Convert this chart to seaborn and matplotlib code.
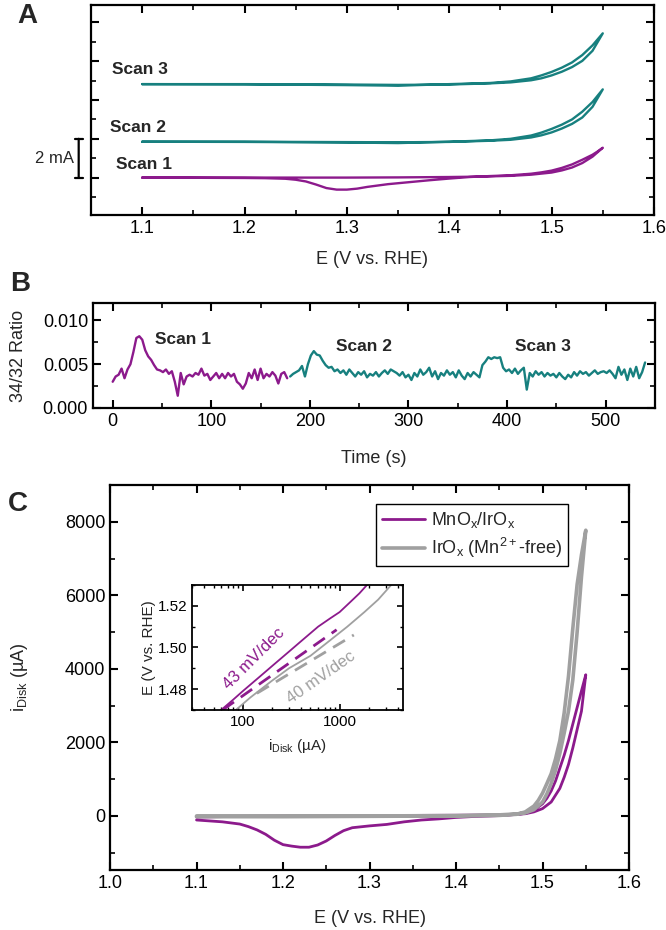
import matplotlib
matplotlib.use("Agg")
import numpy as np
import pandas as pd
import matplotlib.pyplot as plt
import seaborn as sns
from matplotlib.ticker import MultipleLocator, FixedLocator, FormatStrFormatter, LogLocator, NullFormatter

# ---------------- data ----------------
# Panel A: CV scans (mA), forward and reverse branches
e_s1_fwd = [1.10, 1.15, 1.20, 1.25, 1.30, 1.35, 1.40, 1.43, 1.46, 1.48, 1.50, 1.51, 1.52, 1.53, 1.54, 1.55]
i_s1_fwd = [0.0, 0.0, 0.0, 0.0, 0.0, 0.01, 0.03, 0.05, 0.09, 0.15, 0.26, 0.37, 0.52, 0.75, 1.08, 1.54]
e_s1_rev = [1.55, 1.545, 1.54, 1.53, 1.52, 1.51, 1.50, 1.49, 1.48, 1.46, 1.44, 1.42, 1.40, 1.38, 1.36,
            1.34, 1.32, 1.31, 1.30, 1.29, 1.28, 1.27, 1.26, 1.25, 1.24, 1.22, 1.20, 1.15, 1.10]
i_s1_rev = [1.54, 1.35, 1.18, 0.92, 0.68, 0.50, 0.36, 0.27, 0.20, 0.12, 0.08, 0.03, -0.05, -0.14, -0.24,
            -0.34, -0.48, -0.57, -0.62, -0.62, -0.54, -0.36, -0.20, -0.11, -0.06, -0.03, -0.02, -0.01, 0.0]

e_s23_fwd = [1.10, 1.20, 1.30, 1.35, 1.40, 1.44, 1.46, 1.48, 1.49, 1.50, 1.51, 1.52, 1.53, 1.54, 1.55]
e_s23_rev = [1.55, 1.54, 1.53, 1.52, 1.51, 1.50, 1.49, 1.48, 1.46, 1.44, 1.40, 1.35, 1.30, 1.20, 1.10]
i_s2_fwd = [0.0, 0.0, -0.02, -0.03, -0.01, 0.05, 0.10, 0.22, 0.33, 0.48, 0.68, 0.92, 1.25, 1.80, 2.70]
i_s2_rev = [2.70, 2.05, 1.55, 1.15, 0.88, 0.66, 0.47, 0.32, 0.15, 0.07, 0.0, -0.07, -0.04, -0.01, 0.0]
i_s3_fwd = [0.0, 0.0, -0.02, -0.04, -0.02, 0.04, 0.09, 0.20, 0.30, 0.45, 0.64, 0.88, 1.20, 1.72, 2.62]
i_s3_rev = [2.62, 2.00, 1.50, 1.12, 0.85, 0.63, 0.45, 0.30, 0.14, 0.06, 0.0, -0.08, -0.05, -0.01, 0.0]
scan_offsets = [0.0, 1.85, 4.82]

# Panel B: 34/32 ratio, sampled every 3 s
t_scan1 = list(range(0, 180, 3))
r_scan1 = [.0030, .0036, .0038, .0045, .0034, .0044, .0050, .0064, .0080, .0082,
           .0078, .0066, .0059, .0055, .0049, .0044, .0043, .0041, .0044, .0039,
           .0042, .0030, .0014, .0040, .0027, .0036, .0038, .0036, .0040, .0038,
           .0045, .0037, .0039, .0032, .0036, .0040, .0034, .0039, .0034, .0040,
           .0036, .0039, .0030, .0027, .0022, .0028, .0040, .0034, .0044, .0032,
           .0045, .0034, .0039, .0036, .0041, .0037, .0028, .0039, .0041, .0034]
t_scan23 = list(range(180, 543, 3))
r_scan23 = [.0036, .0039, .0041, .0043, .0048, .0036, .0050, .0060, .0065, .0061,
            .0060, .0054, .0049, .0046, .0047, .0042, .0044, .0040, .0043, .0038,
            .0044, .0040, .0036, .0041, .0038, .0042, .0035, .0039, .0037, .0041,
            .0036, .0040, .0043, .0039, .0044, .0042, .0040, .0037, .0041, .0035,
            .0038, .0032, .0040, .0036, .0044, .0038, .0041, .0046, .0036, .0042,
            .0033, .0040, .0037, .0043, .0038, .0041, .0035, .0043, .0037, .0033,
            .0040, .0036, .0041, .0038, .0035, .0049, .0053, .0058, .0056, .0058,
            .0057, .0058, .0046, .0042, .0044, .0040, .0045, .0039, .0043, .0046,
            .0021, .0040, .0036, .0042, .0038, .0041, .0036, .0040, .0037, .0039,
            .0035, .0040, .0036, .0033, .0038, .0035, .0041, .0037, .0042, .0039,
            .0041, .0037, .0040, .0043, .0039, .0041, .0042, .0040, .0043, .0039,
            .0034, .0047, .0038, .0044, .0032, .0045, .0036, .0047, .0034, .0041,
            .0052]

# Panel C: disk current (uA)
e_mn_fwd = [1.10, 1.15, 1.20, 1.30, 1.40, 1.45, 1.47, 1.48, 1.49, 1.50, 1.51, 1.52, 1.525, 1.53, 1.535, 1.54, 1.545, 1.55]
i_mn_fwd = [-30, -10, 0, 10, 20, 30, 45, 60, 110, 200, 380, 750, 1050, 1400, 1850, 2350, 2850, 3840]
e_mn_rev = [1.55, 1.545, 1.54, 1.535, 1.53, 1.525, 1.52, 1.515, 1.51, 1.505, 1.50, 1.49, 1.48, 1.46, 1.44, 1.42,
            1.40, 1.38, 1.36, 1.34, 1.32, 1.30, 1.28, 1.27, 1.26, 1.25, 1.24, 1.23, 1.22, 1.21, 1.20,
            1.19, 1.18, 1.17, 1.16, 1.15, 1.13, 1.10]
i_mn_rev = [3840, 3400, 2950, 2500, 2050, 1650, 1300, 950, 680, 480, 330, 160, 70, 20, 0, -15,
            -40, -80, -110, -160, -230, -270, -320, -400, -530, -680, -790, -850, -850, -820, -780,
            -660, -500, -380, -290, -220, -160, -110]
e_ir_fwd = [1.10, 1.20, 1.30, 1.40, 1.45, 1.47, 1.48, 1.49, 1.50, 1.505, 1.51, 1.515, 1.52, 1.525, 1.53,
            1.535, 1.54, 1.545, 1.55]
i_ir_fwd = [0, 0, 0, 10, 30, 55, 80, 170, 380, 600, 880, 1245, 1700, 2250, 2850, 3700, 5000, 6500, 7770]
e_ir_rev = [1.55, 1.545, 1.54, 1.535, 1.53, 1.525, 1.52, 1.515, 1.51, 1.505, 1.50, 1.495, 1.49, 1.48,
            1.47, 1.45, 1.40, 1.30, 1.20, 1.10]
i_ir_rev = [7770, 7100, 6300, 5100, 3800, 2800, 2050, 1550, 1150, 880, 620, 420, 270, 110,
            45, 15, 0, -10, -20, -20]

# Panel C inset: Tafel plots
tafel_i_mn = [60, 80, 100, 150, 200, 300, 400, 600, 800, 1000, 1300, 1600, 2000]
tafel_e_mn = [1.470, 1.475, 1.479, 1.486, 1.491, 1.498, 1.503, 1.510, 1.514, 1.517, 1.522, 1.526, 1.531]
tafel_i_ir = [85, 120, 200, 300, 500, 800, 1200, 1800, 2500, 3400]
tafel_e_ir = [1.470, 1.476, 1.484, 1.490, 1.496, 1.5035, 1.510, 1.517, 1.523, 1.530]
fit_i_mn = [62, 930]
fit_e_mn = [1.470, 1.5085]
fit_i_ir = [140, 1400]
fit_e_ir = [1.478, 1.506]

purple = "#8c1a8c"
teal = "#17807f"
grey = "#a0a0a0"

# ---------------- style ----------------
sns.set_theme(style="ticks")
plt.rcParams["font.family"] = ["Liberation Sans", "DejaVu Sans"]
plt.rcParams.update({
    "mathtext.fontset": "custom",
    "mathtext.rm": "Liberation Sans",
    "mathtext.it": "Liberation Sans:italic",
    "axes.linewidth": 1.6,
    "axes.edgecolor": "black",
    "xtick.direction": "in", "ytick.direction": "in",
    "xtick.top": True, "ytick.right": True,
    "xtick.major.size": 6, "ytick.major.size": 6,
    "xtick.minor.size": 3.5, "ytick.minor.size": 3.5,
    "xtick.major.width": 1.5, "ytick.major.width": 1.5,
    "xtick.minor.width": 1.2, "ytick.minor.width": 1.2,
    "xtick.color": "black", "ytick.color": "black",
    "xtick.labelsize": 13, "ytick.labelsize": 13,
    "axes.labelsize": 13,
})

fig = plt.figure(figsize=(6.66, 9.30), dpi=100)
ax_a = fig.add_axes([0.1366, 0.7688, 0.8453, 0.2258])
ax_b = fig.add_axes([0.1396, 0.5613, 0.8438, 0.1129])
ax_c = fig.add_axes([0.1652, 0.0645, 0.7793, 0.4140])
ax_in = fig.add_axes([0.2883, 0.2366, 0.3168, 0.1344])

# ---------------- panel A ----------------
scans = [
    (e_s1_fwd + e_s1_rev, i_s1_fwd + i_s1_rev, purple),
    (e_s23_fwd + e_s23_rev, i_s2_fwd + i_s2_rev, teal),
    (e_s23_fwd + e_s23_rev, i_s3_fwd + i_s3_rev, teal),
]
for (e, i, col), off in zip(scans, scan_offsets):
    sns.lineplot(x=e, y=np.array(i) + off, ax=ax_a, sort=False, estimator=None,
                 color=col, lw=1.7)
ax_a.set_xlim(1.05, 1.6)
ax_a.set_ylim(-1.93, 8.9)
ax_a.xaxis.set_major_locator(MultipleLocator(0.1))
ax_a.xaxis.set_minor_locator(MultipleLocator(0.05))
ax_a.xaxis.set_major_formatter(FormatStrFormatter("%.1f"))
ax_a.yaxis.set_major_locator(MultipleLocator(2))
ax_a.yaxis.set_minor_locator(MultipleLocator(1))
ax_a.tick_params(axis="y", which="both", labelleft=False)
ax_a.set_xlabel("E (V vs. RHE)")
ax_a.xaxis.set_label_coords(0.5, -0.17)
ax_a.set_ylabel("")
for lbl, x, y in [("Scan 1", 1.074, 0.7), ("Scan 2", 1.069, 2.6), ("Scan 3", 1.071, 5.55)]:
    ax_a.text(x, y, lbl, fontsize=12.5, fontweight="bold", ha="left", va="center")
ax_a.annotate("", xy=(1.038, 0), xytext=(1.038, 2),
              arrowprops=dict(arrowstyle="|-|, widthA=0.25, widthB=0.25", lw=1.6, color="black",
                              shrinkA=0, shrinkB=0),
              annotation_clip=False)
ax_a.text(1.033, 1.0, "2 mA", fontsize=12, ha="right", va="center", clip_on=False)

# ---------------- panel B ----------------
sns.lineplot(x=t_scan1, y=r_scan1, ax=ax_b, sort=False, estimator=None, color=purple, lw=1.7)
sns.lineplot(x=t_scan23, y=r_scan23, ax=ax_b, sort=False, estimator=None, color=teal, lw=1.7)
ax_b.set_xlim(-20, 550)
ax_b.set_ylim(0, 0.012)
ax_b.xaxis.set_major_locator(MultipleLocator(100))
ax_b.xaxis.set_minor_locator(MultipleLocator(50))
ax_b.yaxis.set_major_locator(MultipleLocator(0.005))
ax_b.yaxis.set_minor_locator(MultipleLocator(0.0025))
ax_b.yaxis.set_major_formatter(FormatStrFormatter("%.3f"))
ax_b.set_xlabel("Time (s)")
ax_b.xaxis.set_label_coords(0.5, -0.40)
ax_b.set_ylabel("34/32 Ratio")
ax_b.yaxis.set_label_coords(-0.117, 0.5)
for lbl, x, y in [("Scan 1", 43, 0.0078), ("Scan 2", 226, 0.0070), ("Scan 3", 408, 0.0070)]:
    ax_b.text(x, y, lbl, fontsize=12.5, fontweight="bold", ha="left", va="center")

# ---------------- panel C ----------------
sns.lineplot(x=e_mn_fwd + e_mn_rev, y=i_mn_fwd + i_mn_rev, ax=ax_c, sort=False, estimator=None,
             color=purple, lw=2.0, label=r"MnO$_{\mathrm{x}}$/IrO$_{\mathrm{x}}$")
sns.lineplot(x=e_ir_fwd + e_ir_rev, y=i_ir_fwd + i_ir_rev, ax=ax_c, sort=False, estimator=None,
             color=grey, lw=2.6, label=r"IrO$_{\mathrm{x}}$ (Mn$^{\mathrm{2+}}$-free)")
ax_c.set_xlim(1.0, 1.6)
ax_c.set_ylim(-1470, 9000)
ax_c.xaxis.set_major_locator(MultipleLocator(0.1))
ax_c.xaxis.set_minor_locator(MultipleLocator(0.05))
ax_c.xaxis.set_major_formatter(FormatStrFormatter("%.1f"))
ax_c.yaxis.set_major_locator(MultipleLocator(2000))
ax_c.yaxis.set_minor_locator(MultipleLocator(1000))
ax_c.set_xlabel("E (V vs. RHE)")
ax_c.xaxis.set_label_coords(0.5, -0.105)
ax_c.set_ylabel(r"i$_{\mathrm{Disk}}$ (µA)")
ax_c.yaxis.set_label_coords(-0.154, 0.5)
leg = ax_c.legend(loc="upper right", bbox_to_anchor=(0.8825, 0.9506), frameon=True, fancybox=False,
                  edgecolor="black", fontsize=13, handlelength=2.4, borderpad=0.35,
                  labelspacing=0.3, handletextpad=0.3, borderaxespad=0)
leg.get_frame().set_linewidth(1.0)
leg.get_frame().set_alpha(1)

# ---------------- inset ----------------
sns.lineplot(x=tafel_i_mn, y=tafel_e_mn, ax=ax_in, sort=False, estimator=None, color=purple, lw=1.3)
sns.lineplot(x=tafel_i_ir, y=tafel_e_ir, ax=ax_in, sort=False, estimator=None, color=grey, lw=1.3)
ax_in.plot(fit_i_mn, fit_e_mn, color=purple, lw=2.0, ls=(0, (5, 3)))
ax_in.plot(fit_i_ir, fit_e_ir, color=grey, lw=2.0, ls=(0, (5, 3)))
ax_in.set_xscale("log")
ax_in.set_xlim(30, 4500)
ax_in.set_ylim(1.47, 1.53)
ax_in.xaxis.set_major_locator(FixedLocator([100, 1000]))
ax_in.xaxis.set_minor_locator(LogLocator(base=10, subs=np.arange(2, 10)))
ax_in.xaxis.set_minor_formatter(NullFormatter())
ax_in.xaxis.set_major_formatter(FormatStrFormatter("%d"))
ax_in.yaxis.set_major_locator(MultipleLocator(0.02))
ax_in.yaxis.set_minor_locator(MultipleLocator(0.01))
ax_in.yaxis.set_major_formatter(FormatStrFormatter("%.2f"))
ax_in.tick_params(labelsize=11, which="major", length=4, width=1.2)
ax_in.tick_params(which="minor", length=2.5, width=1.0)
for sp in ax_in.spines.values():
    sp.set_linewidth(1.3)
ax_in.set_xlabel(r"i$_{\mathrm{Disk}}$ (µA)", fontsize=11)
ax_in.xaxis.set_label_coords(0.5, -0.22)
ax_in.set_ylabel("E (V vs. RHE)", fontsize=11)
ax_in.yaxis.set_label_coords(-0.17, 0.5)
ax_in.text(130, 1.4945, "43 mV/dec", color=purple, fontsize=12, rotation=45, ha="center", va="center")
ax_in.text(650, 1.4855, "40 mV/dec", color=grey, fontsize=12, rotation=35, ha="center", va="center")

# panel letters
fig.text(17 / 666, 1 - 3 / 930, "A", fontsize=20, fontweight="bold", va="top", ha="left")
fig.text(10 / 666, 1 - 271 / 930, "B", fontsize=20, fontweight="bold", va="top", ha="left")
fig.text(8 / 666, 1 - 491 / 930, "C", fontsize=20, fontweight="bold", va="top", ha="left")

plt.savefig("out.png", dpi=100)
